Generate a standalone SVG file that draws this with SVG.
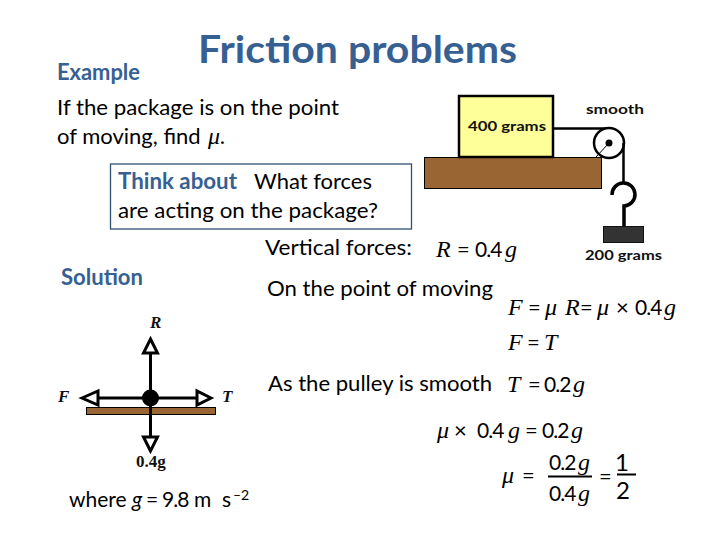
<svg xmlns="http://www.w3.org/2000/svg" width="720" height="540" viewBox="0 0 720 540">
<style>
text{font-family:"Lato","Open Sans","Liberation Sans",sans-serif;font-size:22px;fill:#000}
.blue{fill:#376092;font-weight:700}
.b{font-weight:700;font-size:14px;fill:#111}
.m{font-family:"Liberation Serif",serif;font-style:italic;font-size:24px}
.d{letter-spacing:-1px;font-size:21px}
.fb{font-family:"Liberation Serif",serif;font-weight:700;font-size:17px;fill:#111}
.s{stroke:#000;fill:none}
.head{fill:#fff;stroke:#000;stroke-width:3}
</style>
<rect width="720" height="540" fill="#fff"/>
<text class="blue" x="198" y="63" style="font-size:38px" textLength="319" lengthAdjust="spacingAndGlyphs">Friction problems</text>
<text class="blue" x="57" y="80" textLength="83" lengthAdjust="spacingAndGlyphs">Example</text>
<text x="57" y="115" textLength="282" lengthAdjust="spacingAndGlyphs">If the package is on the point</text>
<text x="57" y="144">of moving, find<tspan class="m" x="208">μ.</tspan></text>

<g id="think-box">
<rect x="110.500" y="164" width="301" height="65" fill="#fff" stroke="#31506f" stroke-width="1.300"/>
<text class="blue" x="118" y="189" textLength="119" lengthAdjust="spacingAndGlyphs">Think about</text>
<text x="254" y="189" textLength="118" lengthAdjust="spacingAndGlyphs">What forces</text>
<text x="118" y="218" textLength="260" lengthAdjust="spacingAndGlyphs">are acting on the package?</text>
</g>

<g id="pulley-system">
<rect x="424.500" y="157.500" width="177" height="31" fill="#996633" stroke="#000" stroke-width="1"/>
<rect x="459" y="96" width="94" height="61" fill="#ffff99" stroke="#000" stroke-width="2.500"/>
<text class="b" x="468" y="131" textLength="78" lengthAdjust="spacingAndGlyphs">400 grams</text>
<path class="s" stroke-width="2.500" d="M553 128.500H609"/>
<circle cx="609" cy="143" r="15" fill="#fff" stroke="#000" stroke-width="2.500"/>
<path class="s" stroke-width="1" d="M609 143L596 157"/>
<circle cx="609" cy="143" r="3.500" fill="#000"/>
<path class="s" stroke-width="2.500" d="M623.500 143V182"/>
<path class="s" stroke-width="3.500" d="M612 195A11.500 11.500 0 1 1 624 206V226"/>
<rect x="603.500" y="226.500" width="40" height="16" fill="#333" stroke="#111" stroke-width="1"/>
<text class="b" x="586" y="114" textLength="58" lengthAdjust="spacingAndGlyphs">smooth</text>
<text class="b" x="585" y="260" textLength="77" lengthAdjust="spacingAndGlyphs">200 grams</text>
</g>

<text x="265" y="255" textLength="147" lengthAdjust="spacingAndGlyphs">Vertical forces:</text>
<text y="257"><tspan class="m" x="436">R</tspan><tspan x="457">=</tspan><tspan class="d" x="475">0.4</tspan><tspan class="m" x="505">g</tspan></text>

<text class="blue" x="61" y="285" textLength="82" lengthAdjust="spacingAndGlyphs">Solution</text>
<text x="267" y="296" textLength="226" lengthAdjust="spacingAndGlyphs">On the point of moving</text>

<text y="315"><tspan class="m" x="508">F</tspan><tspan x="528">=</tspan><tspan class="m" x="545">μ</tspan><tspan class="m" x="565">R</tspan><tspan x="580">=</tspan><tspan class="m" x="597">μ</tspan><tspan x="616">×</tspan><tspan class="d" x="635">0.4</tspan><tspan class="m" x="664">g</tspan></text>

<text y="350"><tspan class="m" x="508">F</tspan><tspan x="527">=</tspan><tspan class="m" x="544">T</tspan></text>

<text x="268" y="391" textLength="224" lengthAdjust="spacingAndGlyphs">As the pulley is smooth</text>
<text y="392"><tspan class="m" x="507">T</tspan><tspan x="528">=</tspan><tspan class="d" x="544">0.2</tspan><tspan class="m" x="573">g</tspan></text>

<text y="438"><tspan class="m" x="437">μ</tspan><tspan x="454">×</tspan><tspan class="d" x="477">0.4</tspan><tspan class="m" x="508">g</tspan><tspan x="525">=</tspan><tspan class="d" x="542">0.2</tspan><tspan class="m" x="571">g</tspan></text>

<text y="483"><tspan class="m" x="502">μ</tspan><tspan x="522">=</tspan></text>
<text y="470"><tspan class="d" x="549">0.2</tspan><tspan class="m" x="578">g</tspan></text>
<path class="s" stroke-width="2" d="M548 476.500H592M617 474.500H636"/>
<text y="501"><tspan class="d" x="549">0.4</tspan><tspan class="m" x="578">g</tspan></text>
<text x="599" y="484">=</text>
<text x="615" y="471" style="font-size:24px">1</text>
<text x="616" y="499" style="font-size:24px">2</text>

<g id="free-body">
<rect x="86.500" y="407.500" width="129" height="7" fill="#996633" stroke="#000" stroke-width="1"/>
<g id="connectors">
<path class="s" stroke-width="3" d="M150.500 352V437M98 398H198"/>
<path class="head" d="M150.500 339L157.500 353H143.500Z"/>
<path class="head" d="M82 398L98 391V405Z"/>
<path class="head" d="M211 398L197 391V405Z"/>
<path class="head" d="M150.500 451L143.500 437H157.500Z"/>
</g>
<circle cx="150.500" cy="398" r="8.500" fill="#000"/>
<text class="fb" x="150" y="328" style="font-style:italic">R</text>
<text class="fb" x="58" y="402" style="font-style:italic">F</text>
<text class="fb" x="222" y="402" style="font-style:italic">T</text>
<text class="fb" x="136" y="467">0.4g</text>
</g>

<text y="507" style="font-size:21px"><tspan x="69">where</tspan><tspan x="132" font-style="italic">g</tspan><tspan x="146">=</tspan><tspan x="162" letter-spacing="-1">9.8</tspan><tspan x="194">m</tspan><tspan x="222">s</tspan><tspan x="233" dy="-7" style="font-size:14px">–2</tspan></text>
</svg>
